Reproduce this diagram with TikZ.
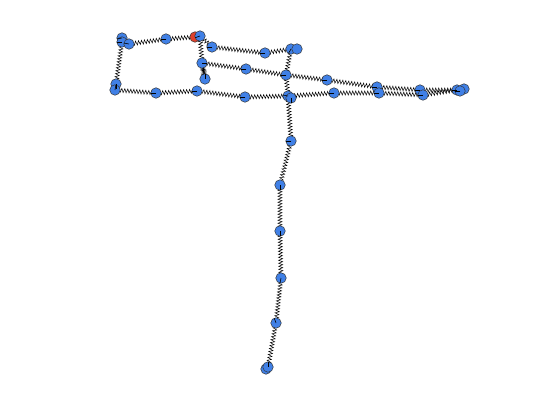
\documentclass[tikz,border=0pt]{standalone}
\usetikzlibrary{decorations.pathmorphing,backgrounds}
\definecolor{massblue}{RGB}{64,128,230}
\definecolor{massred}{RGB}{222,66,44}
\tikzset{
  mass/.style={circle, draw=black!80, line width=0.5pt, fill=massblue, minimum size=10.5pt, inner sep=0},
  spring/.style={line width=0.5pt, decorate, decoration={zigzag, segment length=3pt, amplitude=2pt}},
  tight spring/.style={spring, decoration={zigzag, segment length=1.3pt, amplitude=1.8pt}},
  marker/.style={line width=0.6pt}
}
\begin{document}
\begin{tikzpicture}[x=1pt, y=-1pt]
\useasboundingbox (0, 0) rectangle (560, 420);
% masses
\node[mass, fill=massred] (hub-r) at (195, 37) {};
\foreach \n/\x/\y in {tl-1/122/38, tl-2/122/42, tl-3/129/44, top-1/166/39, hub-1/200/36,
    up-0/212/47, up-1/265/53, up-2/291/49, up-3/297/49,
    mid-0/202/63, mid-k/205/79, mid-1/246/69, mid-2/286/75, mid-3/327/80,
    mid-4/377/87, mid-5/420/90, mid-6/457/90,
    bl-1/116/84, bl-2/115/90, bot-1/156/93, bot-2/197/91, bot-3/245/97,
    bot-4/288/96, bot-4b/291/98, bot-5/334/93, bot-6/379/93, bot-7/423/95,
    bot-8/464/89, bot-8b/460/91,
    leg-1/291/141, leg-2/280/185, leg-3/280/231, leg-4/281/278,
    leg-5/276/323, leg-6b/266/369, leg-6/268/367} {
    \node[mass] (\n) at (\x, \y) {};
}
% springs
\begin{scope}[on background layer]
\draw[spring] (tl-3.center) -- (top-1.center);
\draw[spring] (top-1.center) -- (hub-r.center);
\draw[spring] (tl-2.center) -- (bl-1.center);
\draw[spring] (hub-1.center) -- (up-0.center);
\draw[spring] (hub-1.center) -- (mid-0.center);
\draw[tight spring] (mid-0.center) -- (mid-k.center);
\draw[spring] (up-0.center) -- (up-1.center);
\draw[spring] (up-1.center) -- (up-2.center);
\draw[spring] (up-2.center) -- (mid-2.center);
\draw[spring] (mid-2.center) -- (bot-4.center);
\draw[spring] (bot-4.center) -- (leg-1.center);
\foreach \a/\b in {leg-1/leg-2, leg-2/leg-3, leg-3/leg-4, leg-4/leg-5, leg-5/leg-6,
    mid-0/mid-1, mid-1/mid-2, mid-2/mid-3, mid-3/mid-4, mid-4/mid-5, mid-5/mid-6,
    bl-2/bot-1, bot-1/bot-2, bot-2/bot-3, bot-3/bot-4, bot-4/bot-5, bot-5/bot-6,
    bot-6/bot-7, bot-7/bot-8} {
    \draw[spring] (\a.center) -- (\b.center);
}
\end{scope}
% orientation marks
\foreach \n/\a in {tl-1/190, tl-2/180, tl-3/170, top-1/180, hub-1/200, up-0/180, up-1/180,
    up-2/240, mid-0/0, mid-k/90, mid-1/180, mid-2/180, mid-3/180, mid-4/180, mid-5/180,
    mid-6/180, bl-1/-90, bl-2/80, bot-1/180, bot-2/180, bot-3/180, bot-4/170, bot-4b/-90,
    bot-5/180, bot-6/180, bot-7/180, bot-8b/180, leg-1/180, leg-2/-90, leg-3/-90,
    leg-4/-100, leg-5/110, leg-6/90} {
    \draw[marker] (\n.center) -- ++(\a:5pt);
}
\end{tikzpicture}
\end{document}
